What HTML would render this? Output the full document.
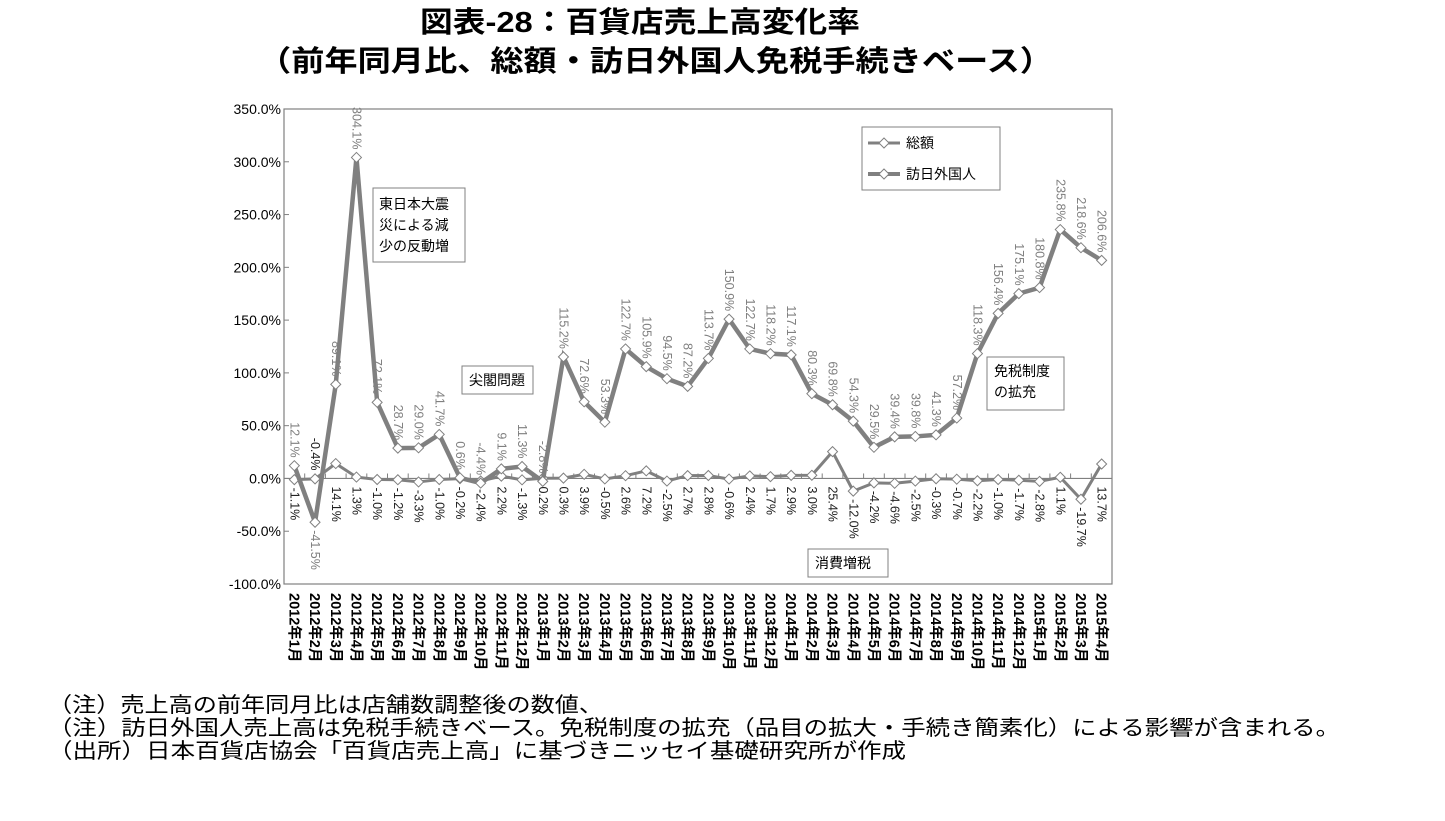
<!DOCTYPE html>
<html><head><meta charset="utf-8"><style>
body{margin:0;background:#fff;width:1445px;height:816px;overflow:hidden;font-family:"Liberation Sans","Noto Sans CJK JP",sans-serif}
</style></head><body>
<svg width="1445" height="816" xmlns="http://www.w3.org/2000/svg" font-family="Liberation Sans, Noto Sans CJK JP, sans-serif">
<text x="420" y="32" font-size="29" font-weight="bold" textLength="440" lengthAdjust="spacingAndGlyphs">図表-28：百貨店売上高変化率</text>
<text x="258" y="71" font-size="29" font-weight="bold" textLength="795" lengthAdjust="spacingAndGlyphs">（前年同月比、総額・訪日外国人免税手続きベース）</text>
<rect x="284" y="109" width="828" height="475" fill="none" stroke="#808080" stroke-width="1.2"/>
<g id="yaxis"></g>
<g id="xaxis"></g>
<g id="series"></g>
<g>
<rect x="862" y="127" width="138" height="63" fill="#fff" stroke="#808080"/>
<line x1="868" y1="143" x2="900" y2="143" stroke="#808080" stroke-width="3"/>
<path d="M884 138 L889 143 L884 148 L879 143Z" fill="#fff" stroke="#808080"/>
<text x="906" y="148" font-size="14">総額</text>
<line x1="868" y1="174" x2="900" y2="174" stroke="#808080" stroke-width="4"/>
<path d="M884 169 L889 174 L884 179 L879 174Z" fill="#fff" stroke="#808080"/>
<text x="906" y="179" font-size="14">訪日外国人</text>
</g>
<g font-size="14">
<rect x="373" y="188" width="92" height="74" fill="#fff" stroke="#808080"/>
<text x="379" y="209"><tspan x="379">東日本大震</tspan><tspan x="379" dy="21">災による減</tspan><tspan x="379" dy="21">少の反動増</tspan></text>
<rect x="462" y="366" width="71" height="28" fill="#fff" stroke="#808080"/>
<text x="469" y="385">尖閣問題</text>
<rect x="987" y="357" width="77" height="53" fill="#fff" stroke="#808080"/>
<text x="994" y="376"><tspan x="994">免税制度</tspan><tspan x="994" dy="21">の拡充</tspan></text>
<rect x="808" y="549" width="80" height="28" fill="#fff" stroke="#808080"/>
<text x="815" y="568">消費増税</text>
</g>
<g font-size="21">
<text x="48" y="712" textLength="555" lengthAdjust="spacingAndGlyphs">（注）売上高の前年同月比は店舗数調整後の数値、</text>
<text x="48" y="735" textLength="1292" lengthAdjust="spacingAndGlyphs">（注）訪日外国人売上高は免税手続きベース。免税制度の拡充（品目の拡大・手続き簡素化）による影響が含まれる。</text>
<text x="48" y="758" textLength="858" lengthAdjust="spacingAndGlyphs">（出所）日本百貨店協会「百貨店売上高」に基づきニッセイ基礎研究所が作成</text>
</g>
</svg>
<script>
const categories=[];
const years=[2012,2013,2014,2015];
for(const y of years){for(let m=1;m<=12;m++){if(y===2015&&m>4)break;categories.push(y+'年'+m+'月');}}
const foreign=[12.1,-41.5,89.1,304.1,72.1,28.7,29.0,41.7,0.6,-4.4,9.1,11.3,-2.8,115.2,72.6,53.3,122.7,105.9,94.5,87.2,113.7,150.9,122.7,118.2,117.1,80.3,69.8,54.3,29.5,39.4,39.8,41.3,57.2,118.3,156.4,175.1,180.8,235.8,218.6,206.6];
const total=[-1.1,-0.4,14.1,1.3,-1.0,-1.2,-3.3,-1.0,-0.2,-2.4,2.2,-1.3,0.2,0.3,3.9,-0.5,2.6,7.2,-2.5,2.7,2.8,-0.6,2.4,1.7,2.9,3.0,25.4,-12.0,-4.2,-4.6,-2.5,-0.3,-0.7,-2.2,-1.0,-1.7,-2.8,1.1,-19.7,13.7];
const yTicks=[350,300,250,200,150,100,50,0,-50,-100];
const NS='http://www.w3.org/2000/svg';
const L=284,R=1112,T=109,B=584,yMax=350,yMin=-100;
const yS=v=>T+(yMax-v)/(yMax-yMin)*(B-T);
const bw=(R-L)/categories.length;
const xS=i=>L+bw*(i+0.5);
function mk(tag,attrs,parent){const e=document.createElementNS(NS,tag);for(const k in attrs)e.setAttribute(k,attrs[k]);parent.appendChild(e);return e;}
const ya=document.getElementById('yaxis'),xa=document.getElementById('xaxis'),sg=document.getElementById('series');
yTicks.forEach(v=>{
  const t=mk('text',{x:281,y:yS(v)+5,'font-size':14,'text-anchor':'end'},ya);
  
  
  t.textContent=v.toFixed(1)+'%';
  mk('line',{x1:L,x2:L+5,y1:yS(v),y2:yS(v),stroke:'#808080'},ya);
});
const y0=yS(0);
mk('line',{x1:L,x2:R,y1:y0,y2:y0,stroke:'#808080','stroke-width':1.2},xa);
categories.forEach((c,i)=>{
  mk('line',{x1:L+bw*i,x2:L+bw*i,y1:y0,y2:y0-5,stroke:'#808080'},xa);
  const t=mk('text',{transform:`translate(${xS(i)-5},${B+9}) rotate(90)`,'font-size':14.5,'font-weight':'bold'},xa);
  
  
  t.textContent=c;
});
function drawSeries(vals,w,name){
  const p=mk('polyline',{points:vals.map((v,i)=>xS(i)+','+yS(v)).join(' '),fill:'none',stroke:'#808080','stroke-width':w,'stroke-linejoin':'miter'},sg);
  
  
  vals.forEach((v,i)=>{
    const x=xS(i),y=yS(v);
    const d=mk('path',{d:`M${x} ${y-5} L${x+5} ${y} L${x} ${y+5} L${x-5} ${y}Z`,fill:'#fff',stroke:'#808080','stroke-width':1},sg);
    
    
  });
}
drawSeries(total,3,'total');
drawSeries(foreign,4.5,'foreign');
foreign.forEach((v,i)=>{
  const x=xS(i),y=yS(v),below=v<-20;
  const t=mk('text',{transform:below?`translate(${x-4},${y+8}) rotate(90)`:`translate(${x-4},${y-8}) rotate(90)`,'font-size':12.5,fill:'#808080','text-anchor':below?'start':'end'},sg);
  
  
  t.textContent=v.toFixed(1)+'%';
});
total.forEach((v,i)=>{
  const x=xS(i);
  const above=foreign[i]<-20;
  const y=above?Math.min(yS(v),y0):Math.max(yS(v),y0);
  const t=mk('text',{transform:above?`translate(${x-4},${y-8}) rotate(90)`:`translate(${x-4},${y+8}) rotate(90)`,'font-size':12.5,fill:'#222','text-anchor':above?'end':'start'},sg);
  
  
  t.textContent=v.toFixed(1)+'%';
});
</script>
</body></html>
